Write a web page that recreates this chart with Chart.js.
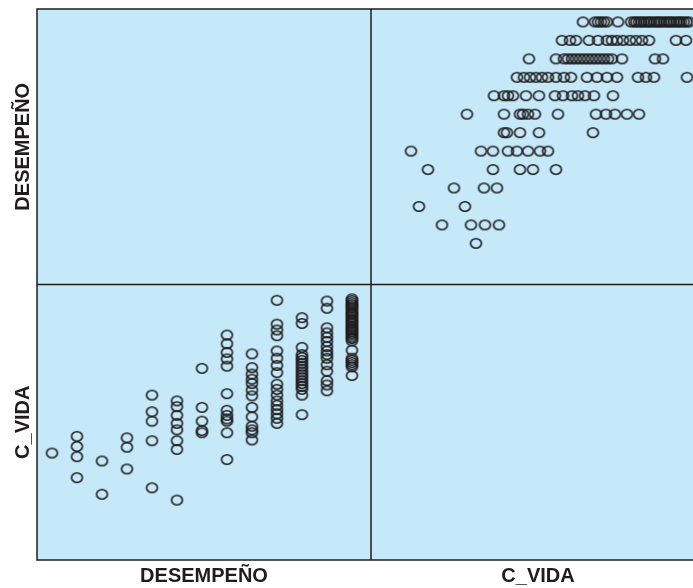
<!DOCTYPE html>
<html>
<head>
<meta charset="utf-8">
<script src="https://cdn.jsdelivr.net/npm/chart.js@4/dist/chart.umd.min.js"></script>
<style>
  html, body { margin: 0; padding: 0; background: #ffffff; overflow: hidden; }
  #wrap { width: 693px; height: 588px; overflow: hidden; }
  #matriz { display: block; }
</style>
</head>
<body>
<div id="wrap"><canvas id="matriz" width="705" height="588"></canvas></div>
<script>
// Variables of the scatterplot matrix
const variables = ['DESEMPEÑO', 'C_VIDA'];

// DESEMPEÑO levels and the C_VIDA values observed at each level
const niveles = [1, 2, 3, 4, 5, 6, 7, 8, 9, 10, 11, 12, 13];
const cVidaPorNivel = [
  [26.25],
  [17.75, 25, 28.5, 32],
  [12, 23.5],
  [20.75, 28.25, 31.5],
  [14.25, 30.5, 37.25, 40.5, 46.25],
  [10, 27.5, 30.5, 34.25, 36.5, 39.25, 42.25, 44.25],
  [33.25, 34, 37.25, 42, 55.5],
  [24, 33.25, 37.25, 38, 39.25, 41, 46.75, 56.25, 58.75, 61, 64, 67],
  [30.75, 33.25, 34.25, 35.5, 38.75, 42, 46, 48, 50.25, 51.75, 53.5, 55.75, 60.5],
  [36.5, 38.25, 39.75, 41.25, 42.75, 44.25, 46.25, 48.25, 50, 54, 56.5, 59, 61.5, 66.75, 68.75, 70.75, 79],
  [39.5, 46.25, 48.25, 49.25, 50.25, 51.25, 52.25, 53.25, 54.25, 55.25, 56.25, 57.25, 58.25, 59.25, 60.25, 62.75, 71, 73],
  [47.75, 49.75, 51.25, 54.5, 56.75, 59, 60.25, 61.5, 63, 64.75, 66.25, 67.75, 69.5, 76.25, 78.75],
  [53, 56, 56.75, 57.5, 58.25, 59, 61.75, 65, 65.8, 66.3, 67.0, 67.6, 68.2, 68.9, 69.5, 70.0, 70.8, 71.4, 72.0, 72.5,
   73.2, 73.9, 74.5, 75.0, 75.7, 76.4, 77.0, 77.5, 78.2, 78.9, 79.5]
];

// One record per case
const casos = [];
niveles.forEach((nivel, i) => {
  cVidaPorNivel[i].forEach(v => casos.push({ desempeno: nivel, cVida: v }));
});

const INK = '#1f1c1d';
const PANEL = '#c6e9f9';
const FONT = '"Liberation Sans", Arial, sans-serif';

// Open, slightly wide ellipse used as the marker
function marcador() {
  const c = document.createElement('canvas');
  c.width = 15; c.height = 13;
  const g = c.getContext('2d');
  g.strokeStyle = INK;
  g.lineWidth = 1.6;
  g.beginPath();
  g.ellipse(7.5, 6.5, 5.4, 4.8, 0, 0, Math.PI * 2);
  g.stroke();
  return c;
}
const punto = marcador();

// Panel backgrounds and frames
const marcos = {
  id: 'marcos',
  beforeDatasetsDraw(chart) {
    const { ctx, chartArea: a } = chart;
    ctx.save();
    ctx.fillStyle = PANEL;
    ctx.fillRect(a.left, a.top, a.right - a.left, a.bottom - a.top);
    ctx.restore();
  },
  afterDatasetsDraw(chart) {
    const { ctx, chartArea: a, scales } = chart;
    const xDiv = scales.xD.right;
    const yDiv = scales.yD.bottom;
    ctx.save();
    ctx.strokeStyle = INK;
    ctx.lineWidth = 1.5;
    ctx.strokeRect(a.left, a.top, a.right - a.left, a.bottom - a.top);
    ctx.beginPath();
    ctx.moveTo(xDiv, a.top); ctx.lineTo(xDiv, a.bottom);
    ctx.moveTo(a.left, yDiv); ctx.lineTo(a.right, yDiv);
    ctx.stroke();
    ctx.restore();
  }
};

function eje(pos, stack, min, max, titulo, fit) {
  return {
    type: 'linear',
    position: pos,
    stack: stack,
    stackWeight: 1,
    min: min,
    max: max,
    grid: { display: false },
    border: { display: false },
    ticks: { display: false },
    title: {
      display: true,
      text: titulo,
      color: INK,
      font: { family: FONT, size: 20, weight: 'bold' },
      padding: pos === 'bottom' ? { top: 0, bottom: 0 } : { top: 11, bottom: 0 }
    },
    afterFit: fit
  };
}
const anchoY = s => { s.width = 37; };
const altoX = s => { s.height = 28; };

new Chart(document.getElementById('matriz'), {
  type: 'scatter',
  data: {
    datasets: [
      {
        // DESEMPEÑO (x) against C_VIDA (y)
        data: casos.map(c => ({ x: c.desempeno, y: c.cVida })),
        xAxisID: 'xD', yAxisID: 'yC',
        pointStyle: punto, pointRadius: 6, pointHoverRadius: 6
      },
      {
        // C_VIDA (x) against DESEMPEÑO (y)
        data: casos.map(c => ({ x: c.cVida, y: c.desempeno })),
        xAxisID: 'xC', yAxisID: 'yD',
        pointStyle: punto, pointRadius: 6, pointHoverRadius: 6
      }
    ]
  },
  options: {
    responsive: false,
    animation: false,
    devicePixelRatio: 1,
    layout: { autoPadding: false, padding: { top: 9, right: 0, bottom: 0, left: 0 } },
    plugins: { legend: { display: false }, tooltip: { enabled: false } },
    scales: {
      xD: eje('bottom', 'columnas', 0.4, 13.76, variables[0], altoX),
      xC: eje('bottom', 'columnas', 0, 83.5, variables[1], altoX),
      yC: eje('left', 'filas', -10.7, 84.45, variables[1], anchoY),
      yD: eje('left', 'filas', -1.23, 13.70, variables[0], anchoY)
    }
  },
  plugins: [marcos]
});
</script>
</body>
</html>
